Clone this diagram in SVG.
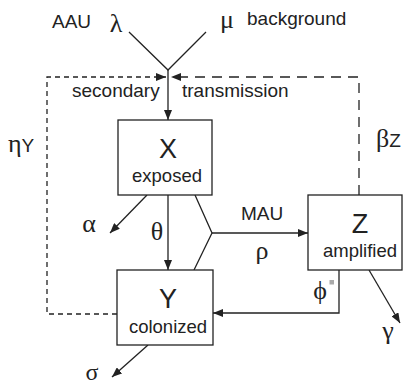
<svg xmlns="http://www.w3.org/2000/svg" width="407" height="386" viewBox="0 0 407 386">
<style>
.ln{fill:none;stroke:#222;stroke-width:1.3}
.box{fill:#fff;stroke:#222;stroke-width:1.3}
.sans{font-family:"Liberation Sans",Arial,sans-serif;fill:#222}
.grk{font-family:"Liberation Serif","Times New Roman",serif;fill:#222;font-size:26px}
.big{font-size:27px}
.lab{font-size:18.5px}
.dsh1{stroke-dasharray:5,4}
.dsh2{stroke-dasharray:10,7}
</style>
<defs>
<marker id="ah" markerWidth="10" markerHeight="8" refX="10" refY="4" orient="auto" markerUnits="userSpaceOnUse">
<path d="M0,0 L10,4 L0,8 Z" fill="#222"/>
</marker>
</defs>
<rect width="407" height="386" fill="#fff"/>
<g id="connectors">
<path class="ln" d="M129,32 L168,70 L206,32"/>
<path class="ln" d="M168,70 V120" marker-end="url(#ah)"/>
<path class="ln dsh1" d="M117,314 H47 V77 H166" marker-end="url(#ah)"/>
<path class="ln dsh2" d="M359,195 V77 H171" marker-end="url(#ah)"/>
<path class="ln" d="M147,195 L110,233" marker-end="url(#ah)"/>
<path class="ln" d="M168,195 V270" marker-end="url(#ah)"/>
<path class="ln" d="M195,195 L212,233 L194,270"/>
<path class="ln" d="M212,233 H308" marker-end="url(#ah)"/>
<path class="ln" d="M339,270 V313 H213" marker-end="url(#ah)"/>
<path class="ln" d="M369,270 L400,323" marker-end="url(#ah)"/>
<path class="ln" d="M148,345 L112,377" marker-end="url(#ah)"/>
</g>
<g id="labels">
<text class="sans" x="52" y="28" font-size="19">AAU</text>
<text class="grk" x="116" y="32" text-anchor="middle">λ</text>
<text class="grk" x="227" y="28" text-anchor="middle">μ</text>
<text class="sans" x="247" y="25" font-size="19">background</text>
<text class="sans" x="72" y="97" font-size="19">secondary</text>
<text class="sans" x="182" y="97" font-size="19">transmission</text>
<text x="8" y="152"><tspan class="grk">η</tspan><tspan class="sans" font-size="19">Y</tspan></text>
<text x="376" y="147"><tspan class="grk">β</tspan><tspan class="sans" font-size="19">Z</tspan></text>
<text class="grk" x="89" y="232" text-anchor="middle">α</text>
<text class="grk" x="157" y="240" text-anchor="middle">θ</text>
<text class="sans" x="262" y="220" font-size="19" text-anchor="middle">MAU</text>
<text class="grk" x="262" y="259" text-anchor="middle">ρ</text>
<text class="grk" x="320" y="299" text-anchor="middle">ϕ</text>
<rect x="329.5" y="280" width="4.5" height="4.5" fill="#aaa"/>
<text class="grk" x="388" y="339" text-anchor="middle">γ</text>
<text class="grk" x="92" y="380" text-anchor="middle" style="font-size:24px">σ</text>
</g>
<g id="X">
<rect class="box" x="118" y="120" width="94" height="75"/>
<text class="sans big" x="168" y="158" text-anchor="middle">X</text>
<text class="sans lab" x="167" y="182" text-anchor="middle">exposed</text>
</g>
<g id="Y">
<rect class="box" x="117" y="270" width="96" height="75"/>
<text class="sans big" x="168" y="308" text-anchor="middle">Y</text>
<text class="sans lab" x="168" y="333" text-anchor="middle">colonized</text>
</g>
<g id="Z">
<rect class="box" x="308" y="195" width="94" height="75"/>
<text class="sans big" x="360" y="233" text-anchor="middle">Z</text>
<text class="sans lab" x="360" y="257" text-anchor="middle">amplified</text>
</g>
</svg>
